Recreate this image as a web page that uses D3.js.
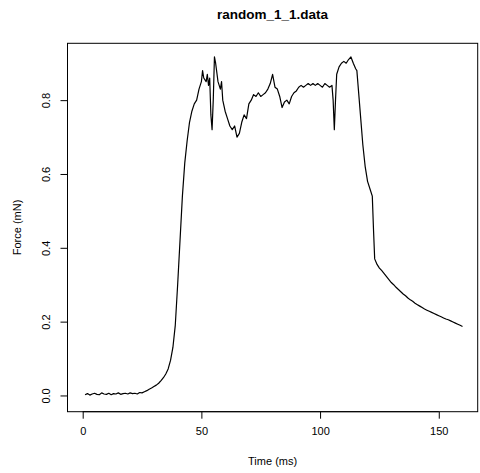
<!DOCTYPE html>
<html>
<head>
<meta charset="utf-8">
<script src="https://cdn.jsdelivr.net/npm/d3@7"></script>
<style>
  body { margin: 0; background: #fff; }
  text { font-family: "Liberation Sans", Arial, sans-serif; fill: #000; }
</style>
</head>
<body>
<div id="chart"></div>
<script>
const ancho = 480
const alto = 473
const caja = { izq: 67.5, der: 477.7, sup: 43.3, inf: 411.7 }

const titulo = "random_1_1.data"
const etiquetaX = "Time (ms)"
const etiquetaY = "Force (mN)"
const ticksX = [0, 50, 100, 150]
const ticksY = [0, 0.2, 0.4, 0.6, 0.8]

// tiempo (ms) y fuerza (mN), leidos a ojo del grafico
const tiempo = [
  1, 2, 3, 4, 5, 6, 7, 8, 9, 10, 11, 12, 13, 14, 15, 16, 17, 18, 19, 20,
  21, 22, 23, 24, 25, 26, 27, 28, 29, 30, 31, 32, 33, 34, 35, 36, 37, 38, 39, 40,
  41, 42, 43, 44, 45, 46, 47, 48, 49, 50, 50.5, 51, 52, 52.5, 53, 53.5, 54, 54.5, 55, 55.5,
  56, 57, 58, 58.5, 59, 60, 61, 62, 63, 64, 65, 66, 67, 68, 69, 70, 71, 72, 73, 74,
  75, 76, 77, 78, 79, 80, 81, 82, 83, 84, 85, 86, 87, 88, 89, 90, 91, 92, 93, 94,
  95, 96, 97, 98, 99, 100, 101, 102, 103, 104, 105, 105.5, 106, 106.5, 107, 108, 109, 110, 111, 112,
  113, 114, 115, 115.5, 116, 117, 118, 119, 120, 121, 122, 122.5, 123, 124, 125, 126, 127, 128, 129, 130,
  131, 132, 133, 134, 135, 136, 137, 138, 139, 140, 141, 142, 143, 144, 145, 146, 147, 148, 149, 150,
  151, 152, 153, 154, 155, 156, 157, 158, 159, 160
]
const fuerza = [
  0.002, 0.005, 0.001, 0.004, 0.006, 0.003, 0.002, 0.007, 0.004, 0.003, 0.006, 0.002, 0.005, 0.004, 0.007, 0.003, 0.005, 0.006, 0.004, 0.007,
  0.005, 0.006, 0.004, 0.008, 0.007, 0.010, 0.013, 0.017, 0.020, 0.024, 0.028, 0.033, 0.040, 0.048, 0.058, 0.072, 0.095, 0.130, 0.190, 0.300,
  0.420, 0.540, 0.630, 0.690, 0.740, 0.770, 0.790, 0.800, 0.830, 0.850, 0.880, 0.860, 0.850, 0.870, 0.840, 0.860, 0.760, 0.720, 0.800, 0.917,
  0.900, 0.850, 0.830, 0.850, 0.800, 0.770, 0.750, 0.730, 0.720, 0.730, 0.700, 0.710, 0.740, 0.760, 0.750, 0.790, 0.800, 0.815, 0.810, 0.820,
  0.810, 0.815, 0.820, 0.830, 0.845, 0.870, 0.835, 0.830, 0.810, 0.780, 0.795, 0.800, 0.790, 0.810, 0.820, 0.825, 0.835, 0.840, 0.835, 0.840,
  0.845, 0.840, 0.845, 0.840, 0.845, 0.840, 0.835, 0.845, 0.840, 0.835, 0.840, 0.800, 0.720, 0.800, 0.870, 0.890, 0.900, 0.905, 0.900, 0.910,
  0.917, 0.900, 0.885, 0.880, 0.840, 0.760, 0.680, 0.620, 0.580, 0.560, 0.540, 0.450, 0.370, 0.355, 0.345, 0.338, 0.330, 0.322, 0.314, 0.306,
  0.300, 0.293, 0.287, 0.281, 0.275, 0.270, 0.264, 0.259, 0.255, 0.250, 0.246, 0.242, 0.238, 0.234, 0.231, 0.228, 0.225, 0.222, 0.219, 0.216,
  0.213, 0.210, 0.207, 0.205, 0.202, 0.199, 0.196, 0.193, 0.190, 0.187
]

const datos = tiempo.map((t, i) => ({ t: t, f: fuerza[i] }))

const svg = d3.select("#chart").append("svg")
  .attr("width", ancho).attr("height", alto)

// rango como en R: datos + 4% a cada lado
const x = d3.scaleLinear().domain([-6.4, 166.4]).range([caja.izq, caja.der])
const y = d3.scaleLinear().domain([-0.044, 0.954]).range([caja.inf, caja.sup])

// ejes
const grupoX = svg.append("g").attr("transform", `translate(0, ${caja.inf})`)
grupoX.call(d3.axisBottom(x).tickValues(ticksX).tickSize(7).tickPadding(9).tickFormat(d3.format("d")))
const grupoY = svg.append("g").attr("transform", `translate(${caja.izq}, 0)`)
grupoY.call(d3.axisLeft(y).tickValues(ticksY).tickSize(7).tickFormat(d3.format(".1f")))

grupoX.select(".domain").attr("d", `M${x(0)},0H${x(150)}`)
grupoY.select(".domain").attr("d", `M0,${y(0)}V${y(0.8)}`)
svg.selectAll(".tick text").attr("font-size", 11).attr("font-family", "Liberation Sans, Arial, sans-serif")
// etiquetas del eje y giradas como en R
grupoY.selectAll(".tick text")
  .attr("x", 0).attr("y", 0).attr("dy", null)
  .attr("text-anchor", "middle")
  .attr("transform", "translate(-18, 0) rotate(-90)")

// caja
svg.append("rect")
  .attr("x", caja.izq).attr("y", caja.sup)
  .attr("width", caja.der - caja.izq).attr("height", caja.inf - caja.sup)
  .attr("fill", "none").attr("stroke", "#000").attr("stroke-width", 1)

// linea
const linea = d3.line().x(d => x(d.t)).y(d => y(d.f))
svg.append("path").datum(datos)
  .attr("d", linea)
  .attr("fill", "none").attr("stroke", "#000").attr("stroke-width", 1.2)
  .attr("stroke-linejoin", "round")

// textos
svg.append("text").attr("x", (caja.izq + caja.der) / 2).attr("y", 19)
  .attr("text-anchor", "middle").attr("font-size", 13.5).attr("font-weight", "bold")
  .text(titulo)
svg.append("text").attr("x", (caja.izq + caja.der) / 2).attr("y", 465)
  .attr("text-anchor", "middle").attr("font-size", 11)
  .text(etiquetaX)
svg.append("text")
  .attr("transform", `translate(21, ${(caja.sup + caja.inf) / 2}) rotate(-90)`)
  .attr("text-anchor", "middle").attr("font-size", 11)
  .text(etiquetaY)
</script>
</body>
</html>
